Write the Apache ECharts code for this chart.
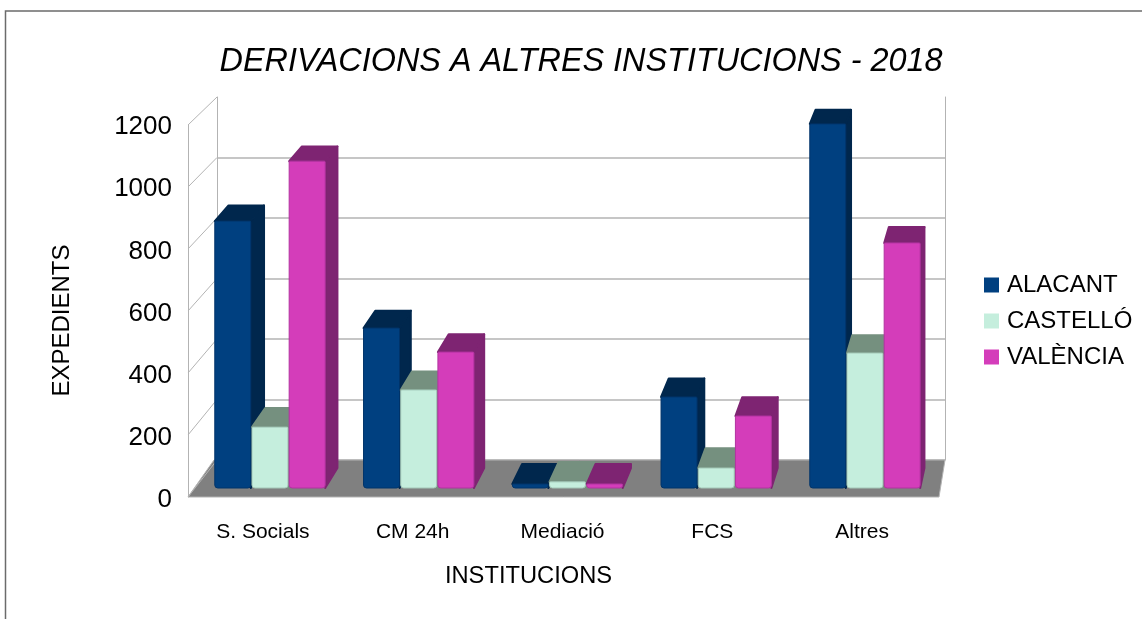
<!DOCTYPE html>
<html>
<head>
<meta charset="utf-8">
<style>
  html, body { margin: 0; padding: 0; background: #fff; }
  #main { width: 1142px; height: 619px; }
</style>
</head>
<body>
<div id="main"></div>
<script src="https://cdn.jsdelivr.net/npm/echarts@6/dist/echarts.min.js"></script>
<script>
const categories = ["S. Socials", "CM 24h", "Mediació", "FCS", "Altres"];
const alacant = [868, 520, 13, 296, 1184];
const castello = [198, 319, 20, 65, 439];
const valencia = [1063, 442, 13, 234, 797];
const yTicks = [0, 200, 400, 600, 800, 1000, 1200];
const FONT = "Liberation Sans";

var myChart = echarts.init(document.getElementById("main"));

function barRenderer(slot, front, side, top, edge) {
  return function (params, api) {
    var cat = api.value(0);
    var val = api.value(1);
    var bandF = api.size([1, 0])[0];
    var bandB = bandF * 0.987;
    var half = 0.121;
    var f0 = api.coord([cat, 0]);
    var f1 = api.coord([cat, val]);
    var b0 = myChart.convertToPixel({ gridIndex: 2 }, [cat, 0]);
    var b1 = myChart.convertToPixel({ gridIndex: 2 }, [cat, val]);
    var fl = f0[0] + (slot * 0.25 - half) * bandF;
    var fr = f0[0] + (slot * 0.25 + half) * bandF;
    var bl = b0[0] + (slot * 0.25 - half) * bandB;
    var br = b0[0] + (slot * 0.25 + half) * bandB;
    return {
      type: "group",
      children: [
        {
          type: "polygon",
          shape: { points: [[fr, f1[1]], [br, b1[1]], [br, b0[1]], [fr, f0[1]]] },
          style: { fill: side, stroke: side, lineWidth: 2, lineJoin: "round" },
        },
        {
          type: "polygon",
          shape: { points: [[fl, f1[1]], [fr, f1[1]], [br, b1[1]], [bl, b1[1]]] },
          style: { fill: top, stroke: top, lineWidth: 2, lineJoin: "round" },
        },
        {
          type: "rect",
          shape: { x: fl, y: f1[1], width: fr - fl, height: f0[1] - f1[1], r: [1, 1, 3, 3] },
          style: { fill: front, stroke: edge, lineWidth: 1 },
        },
      ],
    };
  };
}

// floor and left wall, between back wall (grid 3) and front plane (grid 0)
function renderWalls(params, api) {
  var t = api.value(0);
  var back = api.coord([0, t]);
  var frontY = myChart.convertToPixel({ yAxisIndex: 0 }, t);
  var box = params.coordSys;
  var frontBox = myChart.getModel().getComponent("grid", 0).coordinateSystem.getRect();
  var backX = box.x;
  var frontX = frontBox.x;
  var kids = [
    {
      type: "line",
      shape: { x1: backX, y1: back[1], x2: frontX, y2: frontY },
      style: { stroke: "#b3b3b3", lineWidth: 1 },
    },
  ];
  if (t === 0) {
    kids.unshift({
      type: "polygon",
      shape: {
        points: [
          [backX - 3, back[1]],
          [box.x + box.width, back[1]],
          [frontX + frontBox.width + 2, frontY],
          [frontX, frontY],
        ],
      },
      style: { fill: "#808080", stroke: "#b3b3b3", lineWidth: 1 },
    });
  }
  return { type: "group", children: kids };
}

function barSeries(name, values, slot, front, side, top, edge) {
  return {
    name: name,
    type: "custom",
    xAxisIndex: 1,
    yAxisIndex: 1,
    z: 3,
    itemStyle: { color: front },
    encode: { x: 0, y: 1 },
    data: values.map(function (v, i) { return [i, v]; }),
    renderItem: barRenderer(slot, front, side, top, edge),
  };
}

var hiddenX = { type: "category", data: categories, show: false };
var hiddenY = { type: "value", min: 0, max: 1200, interval: 200, show: false };

var option = {
  animation: false,
  textStyle: { fontFamily: FONT, color: "#000" },
  title: {
    text: "DERIVACIONS A ALTRES INSTITUCIONS - 2018",
    left: 576,
    top: 41,
    textAlign: "center",
    textStyle: { fontFamily: FONT, fontSize: 32.4, fontStyle: "italic", fontWeight: "normal", color: "#000" },
  },
  legend: {
    orient: "vertical",
    left: 984,
    top: 273,
    padding: 0,
    icon: "rect",
    itemWidth: 15,
    itemHeight: 15,
    itemGap: 12,
    textStyle: { fontFamily: FONT, fontSize: 24, color: "#000", padding: [0, 0, 0, 3] },
    data: ["ALACANT", "CASTELLÓ", "VALÈNCIA"],
  },
  grid: [
    { left: 188, top: 125, width: 749, height: 372 }, // front plane
    { left: 195.6, top: 119, width: 743.75, height: 369 }, // bar fronts
    { left: 209.6, top: 105, width: 733.75, height: 363 }, // bar backs
    { left: 217, top: 97, width: 728, height: 363 }, // back wall
    { left: 188, top: 127, width: 749, height: 373 }, // tick labels sit a bit lower than the wall
  ],
  xAxis: [
    {
      type: "category",
      gridIndex: 0,
      data: categories,
      axisLine: { show: false },
      axisTick: { show: false },
      axisLabel: { fontFamily: FONT, fontSize: 21, color: "#000", margin: 25 },
      name: "INSTITUCIONS",
      nameLocation: "middle",
      nameGap: 67,
      nameTextStyle: { fontFamily: FONT, fontSize: 23.7, color: "#000", padding: [0, 68, 0, 0] },
    },
    Object.assign({ gridIndex: 1 }, hiddenX),
    Object.assign({ gridIndex: 2 }, hiddenX),
    Object.assign({ gridIndex: 3 }, hiddenX),
    Object.assign({ gridIndex: 4 }, hiddenX),
  ],
  yAxis: [
    {
      type: "value",
      gridIndex: 0,
      min: 0,
      max: 1200,
      interval: 200,
      axisLine: { show: true, lineStyle: { color: "#b3b3b3", width: 1 } },
      axisTick: { show: false },
      axisLabel: { show: false },
      splitLine: { show: false },
    },
    Object.assign({ gridIndex: 1 }, hiddenY),
    Object.assign({ gridIndex: 2 }, hiddenY),
    {
      type: "value",
      gridIndex: 3,
      min: 0,
      max: 1200,
      interval: 200,
      axisLine: { show: true, lineStyle: { color: "#b3b3b3", width: 1 } },
      axisTick: { show: false },
      axisLabel: { show: false },
      splitLine: { show: true, showMaxLine: false, lineStyle: { color: "#b3b3b3", width: 1.5 } },
    },
    {
      type: "value",
      gridIndex: 3,
      position: "right",
      min: 0,
      max: 1200,
      interval: 200,
      axisLine: { show: true, onZero: false, lineStyle: { color: "#b3b3b3", width: 1 } },
      axisTick: { show: false },
      axisLabel: { show: false },
      splitLine: { show: false },
    },
    {
      type: "value",
      gridIndex: 4,
      min: 0,
      max: 1200,
      interval: 200,
      axisLine: { show: false },
      axisTick: { show: false },
      splitLine: { show: false },
      axisLabel: {
        fontFamily: FONT,
        fontSize: 26,
        color: "#000",
        margin: 16,
        formatter: function (v) { return String(v); },
      },
      name: "EXPEDIENTS",
      nameLocation: "middle",
      nameGap: 114,
      nameTextStyle: { fontFamily: FONT, fontSize: 24, color: "#000", padding: [0, 14, 0, 0] },
    },
  ],
  graphic: [
    {
      type: "polyline",
      silent: true,
      shape: { points: [[5.5, 619], [5.5, 11], [1142, 11]] },
      style: { fill: null, stroke: "#6b6b6b", lineWidth: 1.5 },
    },
  ],
  series: [
    {
      type: "custom",
      xAxisIndex: 3,
      yAxisIndex: 3,
      z: 2,
      silent: true,
      encode: { y: 0 },
      data: yTicks.map(function (t) { return [t]; }),
      renderItem: renderWalls,
    },
    barSeries("ALACANT", alacant, -1, "#004080", "#00274d", "#00274d", "#00346a"),
    barSeries("CASTELLÓ", castello, 0, "#c5eedd", "#75907f", "#75907f", "#a3c7b7"),
    barSeries("VALÈNCIA", valencia, 1, "#d43dba", "#7e2472", "#7e2472", "#b233a0"),
  ],
};

myChart.setOption(option);
</script>
</body>
</html>
